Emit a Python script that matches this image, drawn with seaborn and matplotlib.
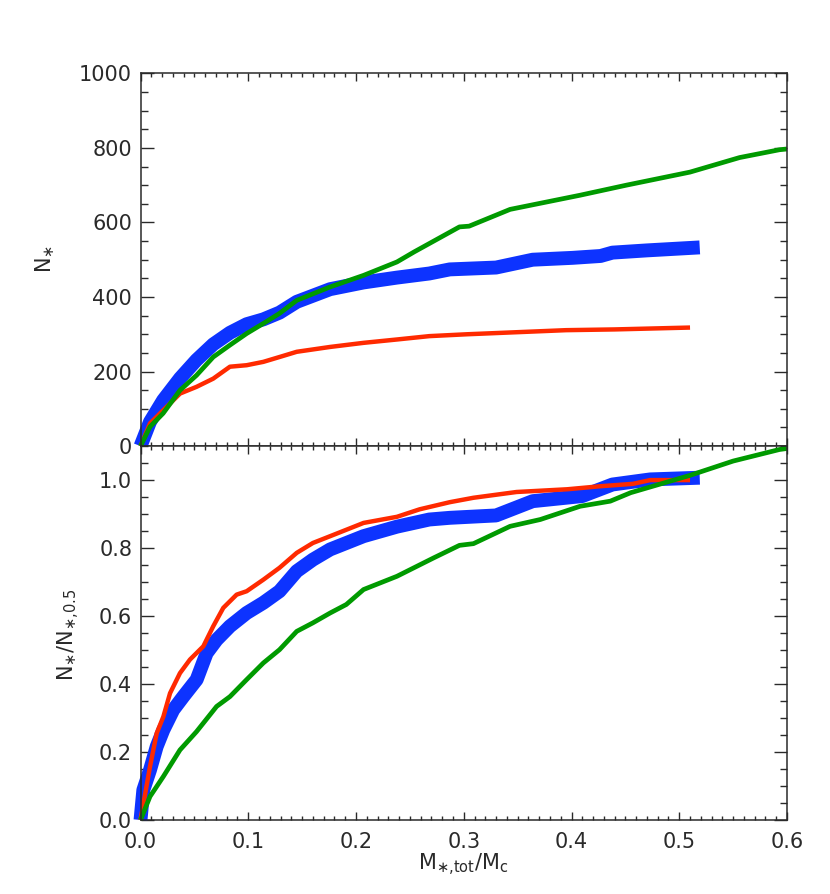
import matplotlib
matplotlib.use("Agg")
import matplotlib.pyplot as plt
from matplotlib.ticker import MultipleLocator, FormatStrFormatter
import seaborn as sns

# top panel: N_* against M_*,tot/M_c
top_blue_x = [0, 0.0088, 0.021, 0.0367, 0.052, 0.0675, 0.083, 0.0985, 0.114, 0.129, 0.145,
              0.176, 0.207, 0.238, 0.268, 0.287, 0.330, 0.364, 0.401, 0.427, 0.438, 0.470, 0.519]
top_blue_n = [0, 65, 123, 182, 231, 273, 304, 327, 340, 358, 387,
              421, 439, 452, 463, 474, 479, 500, 505, 510, 519, 525, 533]

top_red_x = [0, 0.0088, 0.021, 0.0367, 0.052, 0.0675, 0.083, 0.0985, 0.114, 0.129, 0.145,
             0.176, 0.207, 0.238, 0.268, 0.303, 0.395, 0.440, 0.510]
top_red_n = [0, 61, 96, 141, 159, 181, 213, 217, 226, 239, 253,
             266, 277, 286, 295, 300, 311, 313, 318]

top_green_x = [0, 0.0088, 0.021, 0.0367, 0.052, 0.0675, 0.083, 0.0985, 0.114, 0.129, 0.145,
               0.176, 0.207, 0.238, 0.254, 0.296, 0.305, 0.343, 0.408, 0.451, 0.510, 0.556, 0.593, 0.6]
top_green_n = [0, 52, 88, 150, 190, 239, 271, 302, 329, 356, 391,
               427, 458, 494, 521, 588, 590, 635, 673, 700, 735, 774, 795, 797]

# bottom panel: N_* / N_*,0.5
bot_blue_x = [0, 0.0026, 0.0088, 0.015, 0.0212, 0.0304, 0.0397, 0.0521, 0.0614, 0.0706, 0.083,
              0.0985, 0.114, 0.129, 0.145, 0.160, 0.176, 0.207, 0.238, 0.268, 0.287, 0.330,
              0.364, 0.410, 0.438, 0.473, 0.519]
bot_blue_f = [0, 0.088, 0.147, 0.216, 0.265, 0.324, 0.363, 0.413, 0.491, 0.530, 0.570,
              0.609, 0.639, 0.673, 0.732, 0.766, 0.796, 0.835, 0.863, 0.884, 0.889, 0.896,
              0.938, 0.953, 0.987, 1.002, 1.007]

bot_red_x = [0, 0.0088, 0.015, 0.0212, 0.0274, 0.0366, 0.0459, 0.0583, 0.0675, 0.0768, 0.0892,
             0.0985, 0.114, 0.129, 0.145, 0.160, 0.176, 0.207, 0.238, 0.259, 0.287, 0.309,
             0.349, 0.396, 0.427, 0.457, 0.473, 0.510]
bot_red_f = [0, 0.157, 0.255, 0.304, 0.373, 0.432, 0.472, 0.511, 0.570, 0.624, 0.663,
             0.673, 0.707, 0.742, 0.786, 0.815, 0.835, 0.874, 0.892, 0.914, 0.935, 0.948,
             0.965, 0.973, 0.982, 0.989, 1.0, 1.0]

bot_green_x = [0, 0.0088, 0.0212, 0.0366, 0.052, 0.0706, 0.083, 0.0985, 0.114, 0.129, 0.145,
               0.160, 0.176, 0.191, 0.207, 0.238, 0.272, 0.296, 0.309, 0.343, 0.371, 0.408,
               0.436, 0.455, 0.510, 0.550, 0.593, 0.6]
bot_green_f = [0, 0.069, 0.128, 0.206, 0.260, 0.334, 0.363, 0.413, 0.462, 0.501, 0.555,
               0.580, 0.609, 0.634, 0.678, 0.717, 0.771, 0.808, 0.813, 0.864, 0.884, 0.923,
               0.938, 0.963, 1.014, 1.056, 1.090, 1.093]

BLUE = '#0d33ff'
RED = '#ff2a00'
GREEN = '#009a00'
INK = '#2a2a2a'

sns.set_theme(style='ticks')
plt.rcParams['font.family'] = ['DejaVu Sans']
plt.rcParams['mathtext.default'] = 'regular'

fig = plt.figure(figsize=(8.30, 8.94), dpi=100)
ax_top = fig.add_axes([0.1693, 0.501, 0.7789, 0.417])
ax_bot = fig.add_axes([0.1693, 0.0828, 0.7789, 0.4182], sharex=ax_top)


def draw(ax, xs, ys, color, lw):
    sns.lineplot(x=xs, y=ys, ax=ax, color=color, linewidth=lw, sort=False,
                 estimator=None, solid_capstyle='butt', clip_on=False)


draw(ax_top, top_blue_x, top_blue_n, BLUE, 10)
draw(ax_top, top_red_x, top_red_n, RED, 3.2)
draw(ax_top, top_green_x, top_green_n, GREEN, 3.4)

draw(ax_bot, bot_blue_x, bot_blue_f, BLUE, 10)
draw(ax_bot, bot_red_x, bot_red_f, RED, 3.2)
draw(ax_bot, bot_green_x, bot_green_f, GREEN, 3.4)

ax_top.set_xlim(0, 0.6)
ax_top.set_ylim(0, 1000)
ax_bot.set_ylim(0, 1.1)

ax_top.yaxis.set_major_locator(MultipleLocator(200))
ax_top.yaxis.set_minor_locator(MultipleLocator(50))
ax_bot.yaxis.set_major_locator(MultipleLocator(0.2))
ax_bot.yaxis.set_minor_locator(MultipleLocator(0.05))
ax_bot.yaxis.set_major_formatter(FormatStrFormatter('%.1f'))
ax_bot.xaxis.set_major_locator(MultipleLocator(0.1))
ax_bot.xaxis.set_minor_locator(MultipleLocator(0.01))
ax_bot.xaxis.set_major_formatter(FormatStrFormatter('%.1f'))

for ax in (ax_top, ax_bot):
    for side in ax.spines.values():
        side.set_visible(True)
        side.set_linewidth(1.1)
        side.set_color(INK)
    ax.tick_params(axis='both', which='both', direction='in', top=True, right=True,
                   color=INK, width=1.0, labelsize=15, labelcolor=INK)
    ax.tick_params(axis='x', which='major', length=5.8, pad=9)
    ax.tick_params(axis='x', which='minor', length=2.9)
    ax.tick_params(axis='y', which='major', length=9.3, pad=6)
    ax.tick_params(axis='y', which='minor', length=4.7)
    ax.set_xlabel('')
    ax.set_ylabel('')

ax_top.tick_params(axis='x', labelbottom=False)

fig.text(0.054, 0.71, r'N$_{\ast}$', rotation=90, ha='center', va='center',
         fontsize=15, color=INK)
fig.text(0.083, 0.29, r'N$_{\ast}$/N$_{\ast{,}0.5}$', rotation=90, ha='center', va='center',
         fontsize=15, color=INK)
fig.text(0.558, 0.032, r'M$_{\ast{,}tot}$/M$_c$', ha='center', va='center',
         fontsize=15, color=INK)

fig.savefig('out.png', dpi=100)
